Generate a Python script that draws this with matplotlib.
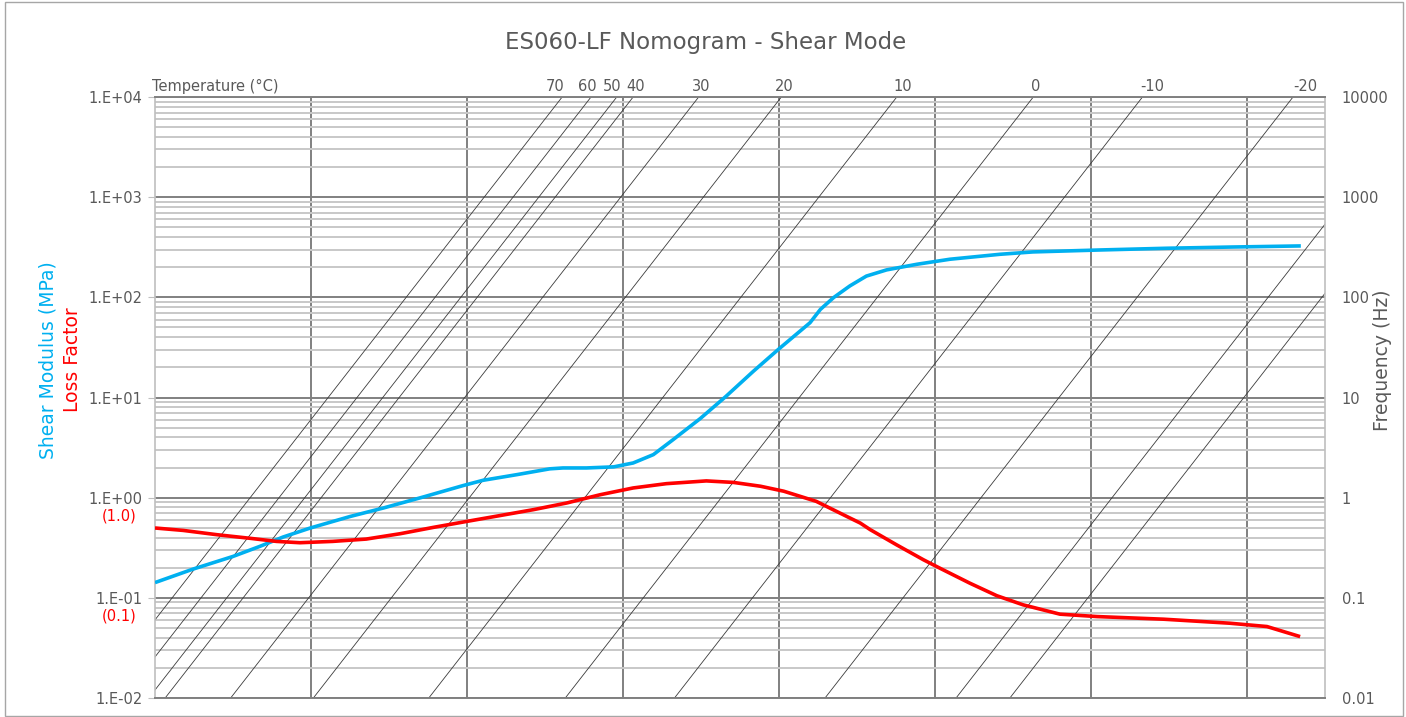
import matplotlib
matplotlib.use("Agg")
import matplotlib.pyplot as plt
import matplotlib.ticker as mticker
from matplotlib.patches import Rectangle
import numpy as np

# --- data ---
# shear modulus (MPa) vs reduced frequency (Hz)
modulus_fr = [1.0e-6, 3.1e-6, 1.0e-5, 2.2e-5, 4.4e-5, 9.8e-5, 3.2e-4, 8.5e-4, 2.8e-3,
              8.9e-3, 1.6e-2, 4.4e-2, 0.115, 0.17, 0.34, 0.76, 1.35, 2.45, 4.4, 9.8,
              21, 47, 98, 250, 340, 500, 810, 1320, 2400, 5900, 1.55e4, 6.8e4, 1.8e5,
              1.3e6, 9.3e6, 6.6e7, 4.9e8]
modulus = [0.142, 0.194, 0.259, 0.326, 0.405, 0.498, 0.650, 0.789, 1.02, 1.32, 1.49,
           1.70, 1.94, 1.98, 1.98, 2.03, 2.22, 2.69, 3.80, 6.17, 10.3, 18.3, 30.2,
           55.8, 75.9, 99.3, 130, 163, 188, 214, 240, 269, 284, 297, 309, 318, 326]

# loss factor vs reduced frequency (Hz)
loss_fr = [1.0e-6, 2.3e-6, 6.2e-6, 1.7e-5, 3.6e-5, 7.2e-5, 1.9e-4, 5.1e-4, 1.4e-3,
           3.7e-3, 1.0e-2, 2.6e-2, 7.1e-2, 0.19, 0.51, 1.35, 3.6, 11.7, 26, 58, 115,
           300, 810, 1100, 1480, 3200, 7100, 1.15e4, 2.8e4, 6.2e4, 1.35e5, 4.0e5,
           1.2e6, 8.5e6, 6.0e7, 1.8e8, 4.8e8]
loss = [0.498, 0.471, 0.427, 0.392, 0.366, 0.355, 0.366, 0.386, 0.437, 0.505, 0.580,
        0.661, 0.759, 0.885, 1.07, 1.25, 1.38, 1.47, 1.42, 1.30, 1.16, 0.919, 0.627,
        0.558, 0.479, 0.339, 0.240, 0.198, 0.140, 0.105, 0.0851, 0.0687, 0.0650,
        0.0612, 0.0558, 0.0517, 0.0410]

# temperature isolines: log10 of shift factor aT (fR = f * aT)
temps = [70, 60, 50, 40, 30, 20, 10, 0, -10, -20]
log_aT = [-4.78, -4.41, -4.08, -3.87, -3.03, -1.97, -0.49, 1.26, 2.66, 4.59]
log_aT_unlabelled = [6.27, 6.96]
# label nudges (points) so the crowded labels don't collide
label_dx = [-5, -3, -3, 1.5, 2, 2, 4, 2, 7, 9]

left_ticks = [1e-2, 1e-1, 1e0, 1e1, 1e2, 1e3, 1e4]
right_labels = ["0.01", "0.1", "1", "10", "100", "1000", "10000"]

GREY_TXT = "#595959"
BLUE = "#00B0F0"
RED = "#FF0000"

fig = plt.figure(figsize=(14.06, 7.17), dpi=100)
ax = fig.add_axes([155 / 1406, 1 - 698 / 717, 1170 / 1406, 601 / 717])

ax.set_xscale("log")
ax.set_yscale("log")
ax.set_xlim(1e-6, 1e9)
ax.set_ylim(1e-2, 1e4)

# grid
ax.xaxis.set_major_locator(mticker.FixedLocator([10.0 ** k for k in range(-4, 9, 2)]))
ax.xaxis.set_minor_locator(mticker.NullLocator())
ax.yaxis.set_major_locator(mticker.FixedLocator(left_ticks))
ax.yaxis.set_minor_locator(mticker.LogLocator(base=10, subs=np.arange(2, 10)))
ax.yaxis.set_minor_formatter(mticker.NullFormatter())
ax.grid(True, which="major", color="#808080", lw=1.4)
ax.grid(True, which="minor", axis="y", color="#C8C8C8", lw=1.4)
ax.set_axisbelow(True)

ax.tick_params(axis="x", which="both", length=0, labelbottom=False)
ax.tick_params(axis="y", which="major", length=5, color="#BFBFBF",
               labelsize=10.5, labelcolor=GREY_TXT, pad=4)
ax.tick_params(axis="y", which="minor", length=0)
ax.yaxis.set_major_formatter(mticker.FuncFormatter(
    lambda v, p: "1.E%+03d" % int(round(np.log10(v)))))

for side in ["left", "right"]:
    ax.spines[side].set_color("#BFBFBF")
    ax.spines[side].set_linewidth(1.2)
for side in ["top", "bottom"]:
    ax.spines[side].set_color("#808080")
    ax.spines[side].set_linewidth(1.4)

# temperature lines
fr_span = np.array([1e-9, 1e13])
for t, s, dx in zip(temps, log_aT, label_dx):
    ax.plot(fr_span, fr_span / 10 ** s, color="#3a3a3a", lw=0.6, zorder=1.5)
    ax.annotate(str(t), xy=(1e4 * 10 ** s, 1), xycoords=("data", "axes fraction"),
                xytext=(dx, 2), textcoords="offset points", ha="center", va="bottom",
                fontsize=10.5, color=GREY_TXT)
for s in log_aT_unlabelled:
    ax.plot(fr_span, fr_span / 10 ** s, color="#3a3a3a", lw=0.6, zorder=1.5)

# curves
ax.plot(modulus_fr, modulus, color=BLUE, lw=2.6, zorder=3, solid_capstyle="butt")
ax.plot(loss_fr, loss, color=RED, lw=2.6, zorder=3, solid_capstyle="butt")

# red loss-factor tick notes
for v, txt in [(1.0, "(1.0)"), (0.1, "(0.1)")]:
    ax.annotate(txt, xy=(0, v), xycoords=("axes fraction", "data"),
                xytext=(-13, -13), textcoords="offset points",
                ha="right", va="center", fontsize=10.5, color=RED)

# right frequency axis
ax2 = ax.twinx()
ax2.set_yscale("log")
ax2.set_ylim(1e-2, 1e4)
ax2.yaxis.set_major_locator(mticker.FixedLocator(left_ticks))
ax2.yaxis.set_minor_locator(mticker.NullLocator())
ax2.set_yticklabels(right_labels)
ax2.tick_params(axis="y", length=0, pad=12, labelsize=10.5, labelcolor=GREY_TXT)
for side in ax2.spines:
    ax2.spines[side].set_visible(False)

# titles and axis captions
fig.text(706 / 1406, 1 - 42 / 717, "ES060-LF Nomogram - Shear Mode",
         ha="center", va="center", fontsize=16.5, color=GREY_TXT)
fig.text(152 / 1406, 1 - 86 / 717, "Temperature (°C)", ha="left", va="center",
         fontsize=10.5, color=GREY_TXT)
fig.text(48 / 1406, 1 - 360 / 717, "Shear Modulus (MPa)", rotation=90,
         ha="center", va="center", fontsize=13.5, color=BLUE)
fig.text(72 / 1406, 1 - 360 / 717, "Loss Factor", rotation=90,
         ha="center", va="center", fontsize=13.5, color=RED)
fig.text(1383 / 1406, 1 - 360 / 717, "Frequency (Hz)", rotation=90,
         ha="center", va="center", fontsize=13.5, color=GREY_TXT)

# chart frame
fig.patches.append(Rectangle((5 / 1406, 1 / 717), 1398 / 1406, 714 / 717,
                             transform=fig.transFigure, fill=False,
                             edgecolor="#A6A6A6", lw=1))

fig.savefig("out.png", dpi=100)
